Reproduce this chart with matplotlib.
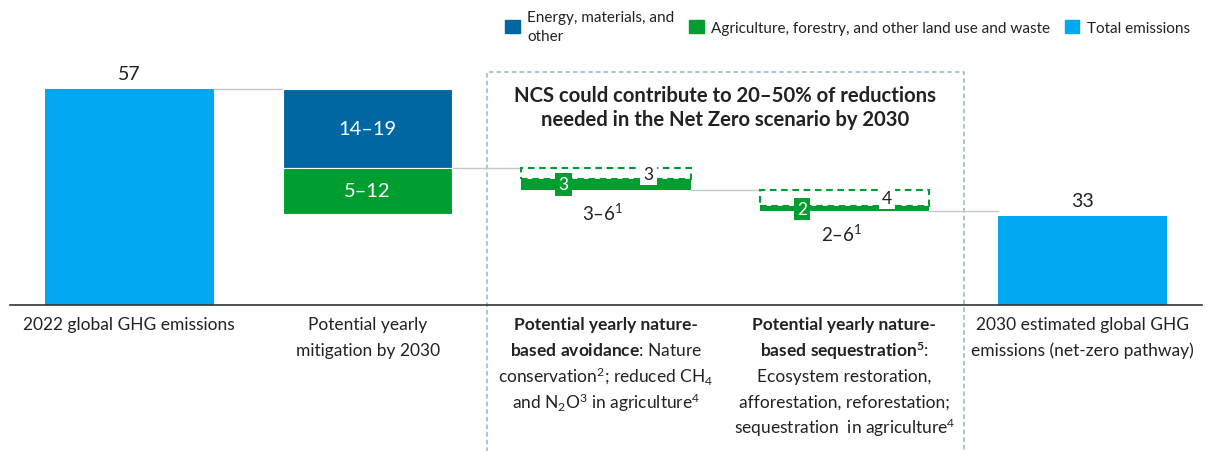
import matplotlib
matplotlib.use("Agg")
import matplotlib.pyplot as plt
from matplotlib.patches import Patch

FONT = "Lato"
plt.rcParams["font.family"] = [FONT, "DejaVu Sans"]
plt.rcParams["mathtext.fontset"] = "custom"
plt.rcParams["mathtext.rm"] = FONT
plt.rcParams["mathtext.bf"] = FONT + ":bold"
plt.rcParams["mathtext.it"] = FONT + ":italic"

# ---------------- data ----------------
positions = [0, 1, 2, 3, 4]
total_positions = [0, 4]
total_values = [57, 33]
total_labels = ["57", "33"]

# mitigation segments (drawn extent on the schematic chart)
mitigation_energy = 14.9
mitigation_afolu = 8.6
mitigation_labels = ["14\u201319", "5\u201312"]

# nature-based (NCS) steps: solid = lower bound, dashed = additional upper range
ncs_positions = [2, 3]
ncs_solid = [2.0, 1.0]
ncs_dashed = [2.1, 3.1]
ncs_low_labels = ["3", "2"]
ncs_extra_labels = ["3", "4"]
ncs_range_labels = ["3\u20136$^1$", "2\u20136$^1$"]

category_lines = [
    [("2022 global GHG emissions", "normal")],
    [("Potential yearly", "normal"), ("mitigation by 2030", "normal")],
    [("Potential yearly nature-", "bold"),
     (r"$\mathbf{based\ avoidance}$: Nature", "normal"),
     (r"conservation$^2$; reduced CH$_4$", "normal"),
     (r"and N$_2$O$^3$ in agriculture$^4$", "normal")],
    [("Potential yearly nature-", "bold"),
     (r"$\mathbf{based\ sequestration^5}$:", "normal"),
     ("Ecosystem restoration,", "normal"),
     ("afforestation, reforestation;", "normal"),
     (r"sequestration  in agriculture$^4$", "normal")],
    [("2030 estimated global GHG", "normal"), ("emissions (net-zero pathway)", "normal")],
]

title = "NCS could contribute to 20\u201350% of reductions\nneeded in the Net Zero scenario by 2030"

legend_labels = ["Energy, materials, and\nother",
                 "Agriculture, forestry, and other land use and waste",
                 "Total emissions"]

# ---------------- styles ----------------
C_TOTAL = "#00A8F0"
C_ENERGY = "#0067A3"
C_AFOLU = "#009E30"
C_TEXT = "#222222"
C_CONN = "#c8c8c8"
C_BOX = "#8fb8c6"
W = 0.709

fig = plt.figure(figsize=(12.08, 4.52), dpi=100)
base_px = 305.7
px_per_unit = 5.3
ymin = 16.3
ax = fig.add_axes([10 / 1208, (452 - base_px) / 452, 1192 / 1208, base_px / 452])
ax.set_xlim(-0.5, 4.5)
ax.set_ylim(ymin, ymin + base_px / px_per_unit)
for s in ["top", "right", "left"]:
    ax.spines[s].set_visible(False)
ax.spines["bottom"].set_color("#333333")
ax.spines["bottom"].set_linewidth(1.2)
ax.set_xticks([])
ax.set_yticks([])
ax.patch.set_alpha(0)

# totals
bars = ax.bar(total_positions, total_values, width=W, color=C_TOTAL, zorder=2)
for x, v, lab in zip(total_positions, total_values, total_labels):
    ax.annotate(lab, (x, v), xytext=(0, 11.2), textcoords="offset points",
                ha="center", va="center", fontsize=14, color=C_TEXT)

# mitigation
top = total_values[0]
e_bottom = top - mitigation_energy
a_bottom = e_bottom - mitigation_afolu
ax.bar(1, mitigation_energy, bottom=e_bottom, width=W, color=C_ENERGY,
       edgecolor="white", linewidth=0.8, zorder=2)
ax.bar(1, mitigation_afolu, bottom=a_bottom, width=W, color=C_AFOLU,
       edgecolor="white", linewidth=0.8, zorder=2)
ax.text(1, e_bottom + mitigation_energy / 2, mitigation_labels[0], ha="center",
        va="center", color="white", fontsize=14.5, zorder=3)
ax.text(1, a_bottom + mitigation_afolu / 2, mitigation_labels[1], ha="center",
        va="center", color="white", fontsize=14.5, zorder=3)

# connectors
def connector(x0, x1, y):
    ax.plot([x0 + W / 2, x1 - W / 2], [y, y], color=C_CONN, lw=1, zorder=1)

connector(0, 1, top)
level = e_bottom
connector(1, 2, level)

for i, pos in enumerate(ncs_positions):
    d_bottom = level - ncs_dashed[i]
    s_bottom = d_bottom - ncs_solid[i]
    ax.bar(pos, ncs_dashed[i], bottom=d_bottom, width=W, fill=False,
           edgecolor=C_AFOLU, linestyle=(0, (3.2, 2.2)), linewidth=1.5, zorder=2)
    ax.bar(pos, ncs_solid[i], bottom=s_bottom, width=W, color=C_AFOLU, zorder=3)
    ax.text(pos - 0.178, s_bottom + ncs_solid[i] / 2, ncs_low_labels[i],
            ha="center", va="center", color="white", fontsize=12.5, zorder=5,
            bbox=dict(boxstyle="square,pad=0.18", fc=C_AFOLU, ec="none"))
    ax.text(pos + 0.178, d_bottom + ncs_dashed[i] / 2, ncs_extra_labels[i],
            ha="center", va="center", color=C_TEXT, fontsize=12.5, zorder=4,
            bbox=dict(boxstyle="square,pad=0.18", fc="white", ec="none"))
    ax.annotate(ncs_range_labels[i], (pos, s_bottom), xytext=(-2, -16),
                textcoords="offset points", ha="center", va="center",
                fontsize=13.5, color=C_TEXT)
    nxt = pos + 1
    connector(pos, nxt, s_bottom)
    level = s_bottom

# dashed highlight box
box_top = ymin + (base_px - 73.3) / px_per_unit
ax.plot([1.5, 1.5, 3.5, 3.5], [-30, box_top, box_top, -30], color=C_BOX,
        lw=1.1, linestyle=(0, (3, 2)), clip_on=False, zorder=0)

ax.text(2.5, ymin + (base_px - 108) / px_per_unit, title, ha="center", va="center",
        fontsize=14.6, fontweight="bold", color=C_TEXT, linespacing=1.3)

# category labels
first_px = 325.0
step_px = 25.8
for pos, lines in zip(positions, category_lines):
    for j, (txt, wt) in enumerate(lines):
        off = -(first_px - base_px + j * step_px) * 72 / 100
        ax.annotate(txt, (pos, 0), xycoords=("data", "axes fraction"),
                    xytext=(0, off), textcoords="offset points", ha="center",
                    va="center", fontsize=12.5, color=C_TEXT, fontweight=wt,
                    annotation_clip=False)

# legend
handles = [Patch(color=C_ENERGY), Patch(color=C_AFOLU), Patch(color=C_TOTAL)]
leg = fig.legend(handles, legend_labels, loc="upper right",
                 bbox_to_anchor=(1190 / 1208, 1 - 11 / 452),
                 ncol=3, frameon=False, fontsize=11, handlelength=0.95, handleheight=0.95,
                 handletextpad=0.5, columnspacing=0.95, borderaxespad=0, borderpad=0,
                 labelcolor=C_TEXT)
for t in leg.get_texts():
    t.set_linespacing(1.45)

fig.savefig("out.png", dpi=100)
